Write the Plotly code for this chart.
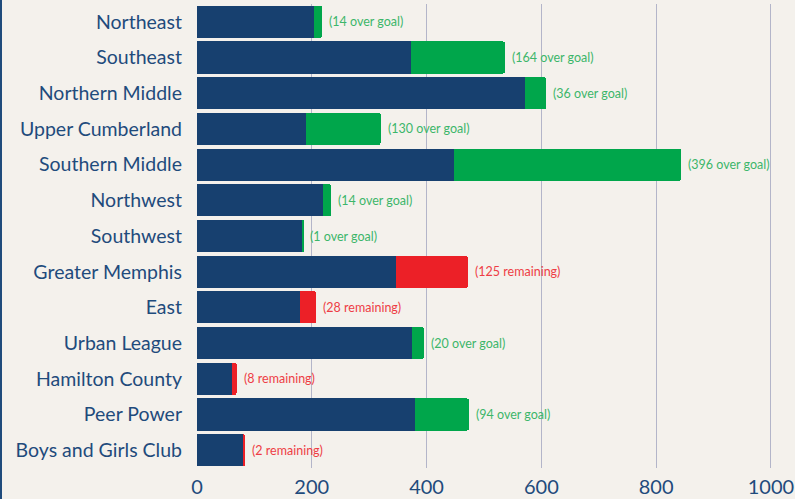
import plotly.graph_objects as go

categories = ["Northeast", "Southeast", "Northern Middle", "Upper Cumberland",
              "Southern Middle", "Northwest", "Southwest", "Greater Memphis",
              "East", "Urban League", "Hamilton County", "Peer Power",
              "Boys and Girls Club"]
base_values = [204, 373, 572, 190, 448, 220, 184, 347, 180, 375, 61, 380, 81]
over_goal = [14, 164, 36, 130, 396, 14, 1, 0, 0, 20, 0, 94, 0]
remaining = [0, 0, 0, 0, 0, 0, 0, 125, 28, 0, 8, 0, 2]
x_ticks = [0, 200, 400, 600, 800, 1000]

BLUE = "#17406f"
GREEN = "#00a64b"
RED = "#ec2027"
GREEN_TXT = "#3cb66a"
RED_TXT = "#ee3d45"
BG = "#f4f1ec"
LABEL = "#1f4b7c"

fig = go.Figure()
fig.add_trace(go.Bar(y=categories, x=base_values, orientation="h",
                     marker=dict(color=BLUE, line=dict(width=0)), showlegend=False))
fig.add_trace(go.Bar(y=categories, x=over_goal, orientation="h",
                     marker=dict(color=GREEN, line=dict(width=0)), showlegend=False))
fig.add_trace(go.Bar(y=categories, x=remaining, orientation="h",
                     marker=dict(color=RED, line=dict(width=0)), showlegend=False))

for cat, b, o, r in zip(categories, base_values, over_goal, remaining):
    if r > 0:
        txt, col = f"({r} remaining)", RED_TXT
    else:
        txt, col = f"({o} over goal)", GREEN_TXT
    fig.add_annotation(x=b + o + r, y=cat, text=txt, showarrow=False,
                       xanchor="left", xshift=5,
                       font=dict(family="Lato", size=12.5, color=col))

W, H = 795, 499
ML, MR, MT, MB = 197, 0, 4, 31
pw = W - ML - MR

fig.add_shape(type="line", xref="paper", yref="paper",
              x0=-(ML - 1) / pw, x1=-(ML - 1) / pw, y0=-MB / (H - MT - MB), y1=1 + MT / (H - MT - MB),
              line=dict(color=LABEL, width=2))

fig.update_layout(
    width=W, height=H,
    margin=dict(l=ML, r=MR, t=MT, b=MB, autoexpand=False),
    barmode="stack", bargap=0.1, barcornerradius=2,
    paper_bgcolor=BG, plot_bgcolor=BG,
    font=dict(family="Lato", color=LABEL),
    xaxis=dict(range=[0, 1042], tickvals=x_ticks, ticktext=[str(v) for v in x_ticks],
               showgrid=True, gridcolor="#b3b5c9", gridwidth=1, zeroline=False,
               showline=False, tickfont=dict(size=20, color=LABEL), ticks="",
               ticklabelstandoff=5, automargin=False),
    yaxis=dict(autorange="reversed", showgrid=False, zeroline=False, showline=False,
               tickfont=dict(size=19.5, color=LABEL), ticklabelstandoff=14, ticks="",
               automargin=False),
)

fig.write_html("out.html", config={"displayModeBar": False},
               post_script="document.body.style.margin='0';document.body.style.overflow='hidden';")
